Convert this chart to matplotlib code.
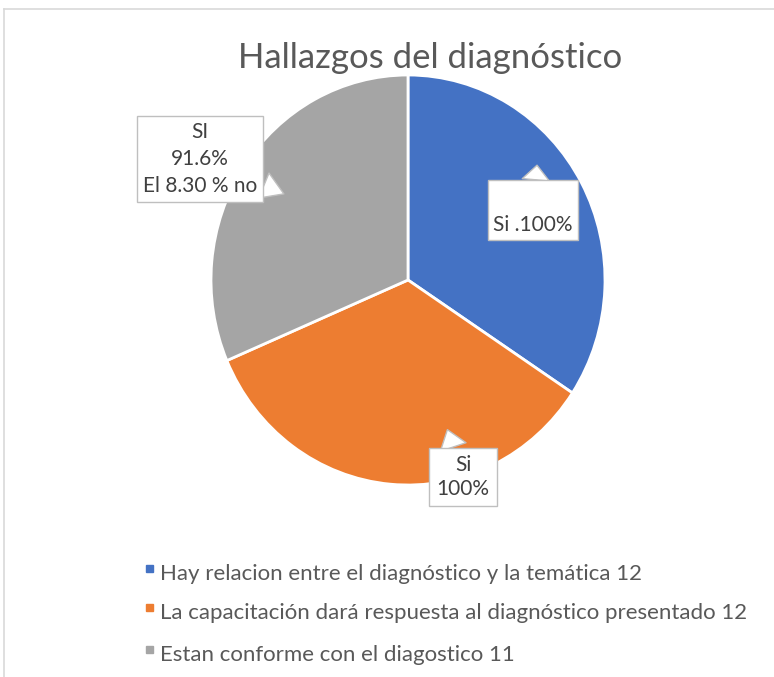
import matplotlib
matplotlib.use("Agg")
import matplotlib.pyplot as plt
from matplotlib.patches import Rectangle
from matplotlib.lines import Line2D

plt.rcParams['font.family'] = ['Lato', 'DejaVu Sans']

# data
categories = ["Hay relacion entre el diagnóstico y la temática 12",
              "La capacitación dará respuesta al diagnóstico presentado 12",
              "Estan conforme con el diagostico 11"]
values = [12, 12, 11]
colors = ["#4472C4", "#ED7D31", "#A5A5A5"]
box_labels = ["\nSi .100%", "Si\n100%", "SI\n91.6%\nEl 8.30 % no"]

W, H = 774, 677
fig = plt.figure(figsize=(W / 100, H / 100), dpi=100)

# pie axes: center (408, 280) px, slightly stretched vertically like the original
cx, cy, rx, ry = 408, 280, 197, 205
ax = fig.add_axes([(cx - rx) / W, (H - cy - ry) / H, 2 * rx / W, 2 * ry / H])
wedges, _ = ax.pie(values, colors=colors, startangle=90, counterclock=False,
                   wedgeprops=dict(edgecolor="white", linewidth=2))
ax.set_xlim(-1, 1)
ax.set_ylim(-1, 1)
ax.set_aspect("auto")
ax.axis("off")

# callout labels: (box center, pointer tip, pad, linespacing) in data units
callouts = [((0.635, 0.34), (0.655, 0.56), 0.25, 1.6),
            ((0.28, -0.96), (0.2, -0.73), 0.35, 1.25),
            ((-1.056, 0.59), (-0.63, 0.42), 0.3, 1.42)]
for lab, (pos, tip, pad, ls) in zip(box_labels, callouts):
    ax.annotate(lab, xy=tip, xytext=pos, ha="center", va="center",
                fontsize=15, color="#404040", linespacing=ls,
                bbox=dict(boxstyle="square,pad=%s" % pad, fc="white", ec="#bfbfbf", lw=1),
                arrowprops=dict(arrowstyle="wedge,tail_width=1.3,shrink_factor=0.5",
                                fc="white", ec="#bfbfbf", lw=1, shrinkA=0, shrinkB=0),
                annotation_clip=False)

# title
fig.text(430 / W, 1 - 58 / H, "Hallazgos del diagnóstico", ha="center", va="center",
         fontsize=25, color="#595959")

# legend
rows_y = [574, 613, 655]
for lab, col, y in zip(categories, colors, rows_y):
    fig.text(160 / W, 1 - y / H, lab, ha="left", va="center", fontsize=16,
             color="#595959")
    fig.add_artist(Rectangle((146 / W, 1 - (y - 2) / H), 7 / W, 7 / H,
                             transform=fig.transFigure, color=col))

# chart frame (cropped)
fig.add_artist(Line2D([4 / W, 1], [1 - 9 / H, 1 - 9 / H], transform=fig.transFigure,
                      color="#d9d9d9", lw=1.2))
fig.add_artist(Line2D([4 / W, 4 / W], [0, 1 - 9 / H], transform=fig.transFigure,
                      color="#d9d9d9", lw=1.2))

fig.savefig("out.png", dpi=100)
